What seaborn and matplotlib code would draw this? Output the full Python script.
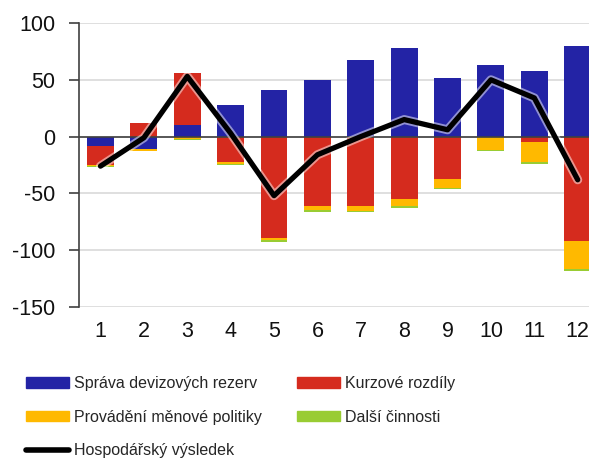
import numpy as np
import seaborn as sns
import matplotlib.pyplot as plt
import matplotlib.patheffects as pe
from matplotlib.patches import Patch
from matplotlib.lines import Line2D

sns.set_style("white")
plt.rcParams["font.family"] = ["Liberation Sans", "DejaVu Sans"]
plt.rcParams["axes.unicode_minus"] = False

# data
mesice = [1, 2, 3, 4, 5, 6, 7, 8, 9, 10, 11, 12]
sprava = [-8, -11, 10, 28, 41, 50, 67, 78, 52, 63, 58, 80]
kurzove = [-17, 12, 46, -22, -89, -61, -61, -55, -37, 0, -5, -92]
menova = [-1, -1.5, -2.4, -1.8, -2.4, -3.5, -4.7, -6, -8, -11.8, -17.6, -24.4]
dalsi = [-0.5, -0.3, -0.5, -1.2, -1.5, -1.5, -1, -2, -1, -1, -1.2, -1.8]
vysledek = [-26, -1, 53, 3, -52, -16, 0, 15, 6, 50, 34, -38]

nazvy = ["Správa devizových rezerv", "Kurzové rozdíly",
         "Provádění měnové politiky", "Další činnosti", "Hospodářský výsledek"]
barvy = ["#2323A5", "#D52B1E", "#FFB900", "#99CC33"]

fig = plt.figure(figsize=(5.89, 4.59), dpi=100)
ax = fig.add_axes([79 / 589, 1 - 307 / 459, 1 - 79 / 589, (307 - 23) / 459])

# stacked bars, positives and negatives stacked separately
pos = np.zeros(len(mesice))
neg = np.zeros(len(mesice))
for vals, col in zip([sprava, kurzove, menova, dalsi], barvy):
    v = np.array(vals, dtype=float)
    bottom = np.where(v >= 0, pos, neg)
    sns.barplot(x=mesice, y=v, native_scale=True, width=0.62, color=col,
                saturation=1, errorbar=None, bottom=bottom, linewidth=0,
                edgecolor="none", ax=ax, zorder=2)
    pos += np.clip(v, 0, None)
    neg += np.clip(v, None, 0)

ax.axhline(0, color="#404040", lw=1.2, zorder=3)

sns.lineplot(x=mesice, y=vysledek, color="black", lw=3.8, ax=ax, zorder=4,
             sort=False,
             path_effects=[pe.Stroke(linewidth=6.5, foreground="white", alpha=0.5),
                           pe.Normal()])

ax.set_ylim(-150, 100)
ax.set_xlim(0.505, 12.26)
ax.set_yticks([-150, -100, -50, 0, 50, 100])
ax.set_xticks(mesice)
ax.set_xticklabels([str(m) for m in mesice])
ax.set_xlabel("")
ax.set_ylabel("")

ax.yaxis.grid(True, color="#D9D9D9", lw=1.2)
ax.xaxis.grid(False)
ax.set_axisbelow(True)
for s in ["top", "right", "bottom"]:
    ax.spines[s].set_visible(False)
ax.spines["left"].set_color("#404040")
ax.spines["left"].set_linewidth(1.2)
ax.tick_params(axis="y", length=7, width=1.2, color="#404040", pad=10,
               labelsize=15.5, labelcolor="#111111", left=True)
ax.tick_params(axis="x", length=0, pad=10, labelsize=15.5, labelcolor="#111111")

handles = [Patch(color=barvy[0]), Patch(color=barvy[2]),
           Line2D([], [], color="black", lw=4, solid_capstyle="round"),
           Patch(color=barvy[1]), Patch(color=barvy[3])]
labels = [nazvy[0], nazvy[2], nazvy[4], nazvy[1], nazvy[3]]
fig.legend(handles, labels, ncol=2, loc="upper left",
           bbox_to_anchor=(26 / 589, 1 - 376 / 459), frameon=False,
           fontsize=11.5, handlelength=2.7, handleheight=0.65,
           handletextpad=0.3, columnspacing=2.2, labelspacing=1.17,
           borderpad=0, borderaxespad=0)

fig.savefig("out.png", dpi=100)
